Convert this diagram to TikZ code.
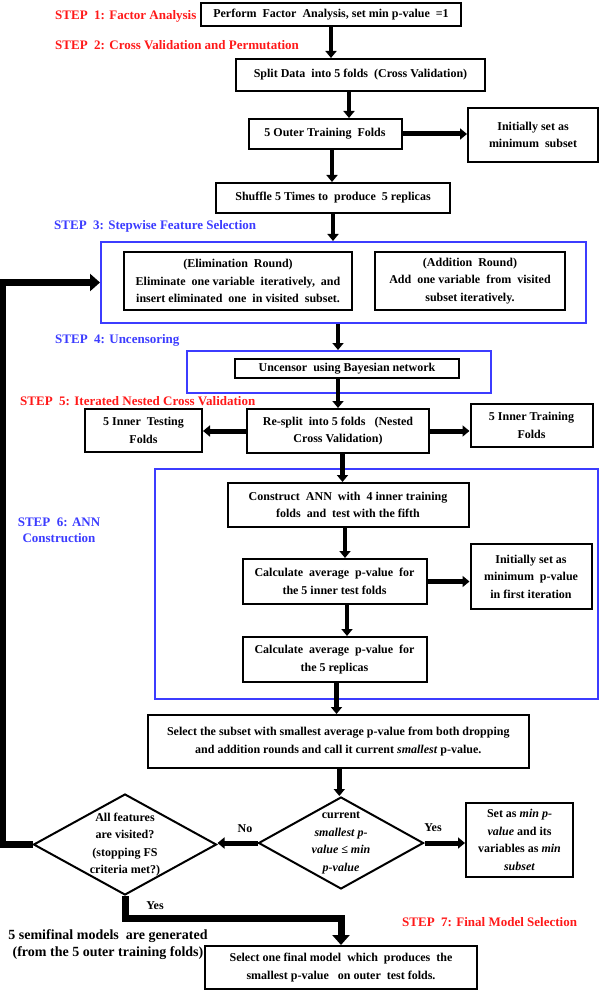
\documentclass[tikz,border=0pt]{standalone}
\usepackage{fontspec}
\setmainfont{Liberation Serif}
\usetikzlibrary{arrows.meta,shapes.geometric}
\definecolor{stepred}{RGB}{255,25,25}
\definecolor{stepblue}{RGB}{60,60,255}
\begin{document}
\begin{tikzpicture}[x=1pt,y=-1pt,
  box/.style={draw=black, line width=2pt, fill=white, align=center, inner sep=0pt, font=\fontsize{12}{17.5}\selectfont\bfseries},
  bluebox/.style={draw=stepblue, line width=2pt, inner sep=0pt},
  dtext/.style={align=center, inner sep=0pt, font=\fontsize{12}{17.5}\selectfont\bfseries},
  dshape/.style={diamond, draw=black, line width=2pt, fill=white, inner sep=0pt},
  arr/.style={line width=4.5pt, -{Triangle[length=7pt,width=11pt]}},
  thickarr/.style={line width=5pt, -{Triangle[length=7pt,width=11pt]}},
  fatarr/.style={line width=7pt, -{Triangle[length=10pt,width=17pt]}},
  redstep/.style={text=stepred, inner sep=0pt, font=\fontsize{13}{16}\selectfont\bfseries},
  bluestep/.style={text=stepblue, inner sep=0pt, font=\fontsize{13}{16}\selectfont\bfseries},
  lbl/.style={inner sep=0pt, font=\fontsize{12}{14}\selectfont\bfseries},
  semi/.style={align=center, inner sep=0pt, font=\fontsize{14}{17}\selectfont\bfseries}]
\useasboundingbox (0,0) rectangle (600,992);

% blue frames
\node[bluebox, minimum width=485pt, minimum height=81pt] (blue1) at (343.5,282.5) {};
\node[bluebox, minimum width=304.5pt, minimum height=42pt] (blue2) at (339,372) {};
\node[bluebox, minimum width=443pt, minimum height=230pt] (blue3) at (376.75,584) {};

% boxes
\node[box, minimum width=260pt, minimum height=23pt] (perform) at (331,14.5) {Perform\ \ Factor\ \ Analysis, set min p-value\ \ =1};
\node[box, minimum width=249pt, minimum height=32pt] (split) at (360.5,75) {Split Data\ \ into 5 folds\ \ (Cross Validation)};
\node[box, minimum width=153pt, minimum height=30pt] (outer) at (325,134) {5 Outer Training\ \ Folds};
\node[box, minimum width=130pt, minimum height=54pt] (init1) at (533,135) {Initially set as\\minimum\ \ subset};
\node[box, minimum width=234pt, minimum height=30pt] (shuffle) at (333,198) {Shuffle 5 Times to\ \ produce\ \ 5 replicas};
\node[box, minimum width=228pt, minimum height=58pt] (elim) at (238,281) {(Elimination\ \ Round)\\Eliminate\ \ one variable\ \ iteratively,\ \ and\\insert eliminated\ \ one\ \ in visited\ \ subset.};
\node[box, minimum width=190pt, minimum height=58pt] (add) at (470,281) {(Addition\ \ Round)\\Add\ \ one variable\ \ from\ \ visited\\subset iteratively.};
\node[box, minimum width=224pt, minimum height=19pt] (uncensor) at (347,368.5) {Uncensor\ \ using Bayesian network};
\node[box, minimum width=182pt, minimum height=44pt] (resplit) at (338,431) {Re-split\ \ into 5 folds\ \ \ (Nested\\Cross Validation)};
\node[box, minimum width=117pt, minimum height=43pt] (itest) at (143.5,430.5) {5 Inner\ \ Testing\\Folds};
\node[box, minimum width=122pt, minimum height=43pt] (itrain) at (531.5,425.5) {5 Inner Training\\Folds};
\node[box, minimum width=241pt, minimum height=44pt] (construct) at (348,505) {Construct\ \ ANN\ \ with\ \ 4 inner training\\folds\ \ and\ \ test with the fifth};
\node[box, minimum width=184pt, minimum height=45pt] (calcin) at (334.5,581.5) {Calculate\ \ average\ \ p-value\ \ for\\the 5 inner test folds};
\node[box, minimum width=121pt, minimum height=65pt] (init2) at (531,576.5) {Initially set as\\minimum\ \ p-value\\in first iteration};
\node[box, minimum width=184pt, minimum height=45pt] (calcrep) at (334.5,659.5) {Calculate\ \ average\ \ p-value\ \ for\\the 5 replicas};
\node[box, minimum width=381pt, minimum height=53pt] (select) at (338.3,741.5) {Select the subset with smallest average p-value from both dropping\\and addition rounds and call it current \textit{smallest} p-value.};
\node[dshape, minimum width=165pt, minimum height=92pt] (dcur) at (341,843) {};
\node[dtext] (dcurt) at (dcur.center) {current\\\textit{smallest p-}\\\textit{value ≤ min}\\\textit{p-value}};
\node[box, minimum width=107pt, minimum height=74pt] (setmin) at (519.5,840) {Set as \textit{min p-}\\\textit{value} and its\\variables as \textit{min}\\\textit{subset}};
\node[dshape, minimum width=183pt, minimum height=101pt] (dall) at (125,844.5) {};
\node[dtext] (dallt) at (dall.center) {All features\\are visited?\\(stopping FS\\criteria met?)};
\node[box, minimum width=272pt, minimum height=43pt] (final) at (341,967.5) {Select one final model\ \ which\ \ produces\ \ the\\smallest p-value\ \ \ on outer\ \ test folds.};

% step labels
\node[redstep, anchor=west] (s1) at (55,16) {STEP\ \ 1: Factor Analysis};
\node[redstep, anchor=west] (s2) at (55,45) {STEP\ \ 2: Cross Validation and Permutation};
\node[bluestep, anchor=west] (s3) at (54,226) {STEP\ \ 3: Stepwise Feature Selection};
\node[bluestep, anchor=west] (s4) at (55,340) {STEP\ \ 4: Uncensoring};
\node[redstep, anchor=west] (s5) at (20,401) {STEP\ \ 5: Iterated Nested Cross Validation};
\node[bluestep, align=center] (s6) at (59,530) {STEP\ \ 6: ANN\\Construction};
\node[redstep, anchor=west] (s7) at (402,922) {STEP\ \ 7: Final Model Selection};
\node[semi] (semi) at (108,944.5) {5 semifinal models\ \ are generated\\(from the 5 outer training folds)};

% connectors
\draw[arr] (perform.south) -- (perform.south |- split.north);
\draw[arr] ([xshift=-11.5pt]split.south) -- ([xshift=-11.5pt]split.south |- outer.north);
\draw[thickarr] (outer.east) -- (outer.east -| init1.west);
\draw[arr] ([xshift=7pt]outer.south) -- ([xshift=7pt]outer.south |- shuffle.north);
\draw[arr] (shuffle.south) -- (shuffle.south |- blue1.north);
\draw[arr] ([xshift=-5.5pt]blue1.south) -- ([xshift=-5.5pt]blue1.south |- blue2.north);
\draw[arr] ([xshift=-9pt]uncensor.south) -- ([xshift=-9pt]uncensor.south |- resplit.north);
\draw[thickarr] (resplit.west) -- (resplit.west -| itest.east);
\draw[thickarr] (resplit.east) -- (resplit.east -| itrain.west);
\draw[arr] ([xshift=4.5pt]resplit.south) -- ([xshift=4.5pt]resplit.south |- construct.north);
\draw[arr] ([xshift=-3pt]construct.south) -- ([xshift=-3pt]construct.south |- calcin.north);
\draw[thickarr] (calcin.east) -- (calcin.east -| init2.west);
\draw[arr] ([xshift=12.5pt]calcin.south) -- ([xshift=12.5pt]calcin.south |- calcrep.north);
\draw[arr] ([xshift=2pt]calcrep.south) -- ([xshift=2pt]calcrep.south |- select.north);
\draw[arr] ([xshift=1pt]select.south) -- ([xshift=1pt]select.south |- dcur.north);
\draw[thickarr] (dcur.east) -- (dcur.east -| setmin.west);
\draw[thickarr] (dcur.west) -- (dcur.west -| dall.east);
\draw[fatarr] (dall.west) -- ++(-30,0) |- (blue1.west);
\draw[fatarr] (dall.south) -- ++(0,22) -| (final.north);

% labels
\node[lbl] (no) at (245,829) {No};
\node[lbl] (yes1) at (433,828) {Yes};
\node[lbl] (yes2) at (155,906) {Yes};
\end{tikzpicture}
\end{document}
